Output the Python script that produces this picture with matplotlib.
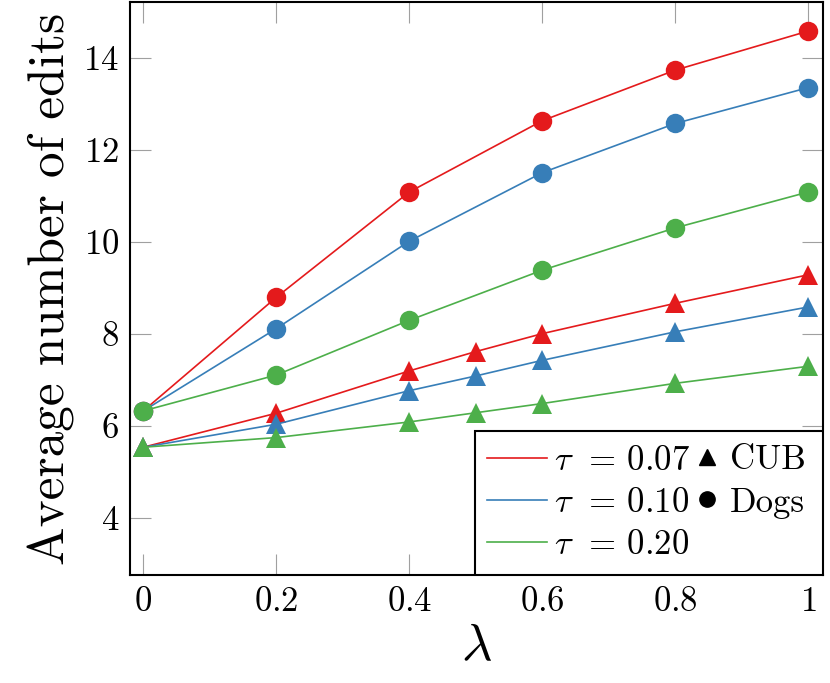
import matplotlib
matplotlib.use("Agg")
import matplotlib.pyplot as plt
from matplotlib.lines import Line2D
from matplotlib.patches import Rectangle

plt.rcParams['font.family'] = 'serif'
plt.rcParams['font.serif'] = ['cmr10', 'DejaVu Serif']
plt.rcParams['mathtext.fontset'] = 'cm'
plt.rcParams['axes.formatter.use_mathtext'] = True

# Data
lam_dogs = [0, 0.2, 0.4, 0.6, 0.8, 1.0]
lam_cub = [0, 0.2, 0.4, 0.5, 0.6, 0.8, 1.0]
taus = ["0.07", "0.10", "0.20"]
dogs = {
    "0.07": [6.33, 8.80, 11.09, 12.64, 13.74, 14.59],
    "0.10": [6.33, 8.12, 10.02, 11.51, 12.58, 13.36],
    "0.20": [6.33, 7.11, 8.30, 9.39, 10.31, 11.09],
}
cub = {
    "0.07": [5.54, 6.28, 7.20, 7.62, 8.01, 8.67, 9.29],
    "0.10": [5.54, 6.04, 6.77, 7.09, 7.43, 8.05, 8.59],
    "0.20": [5.54, 5.75, 6.09, 6.29, 6.49, 6.93, 7.30],
}
colors = {"0.07": "#e41a1c", "0.10": "#377eb8", "0.20": "#4daf4a"}
xticks = [0, 0.2, 0.4, 0.6, 0.8, 1]
xticklabels = ["$0$", "$0.2$", "$0.4$", "$0.6$", "$0.8$", "$1$"]
yticks = [4, 6, 8, 10, 12, 14]
yticklabels = ["$4$", "$6$", "$8$", "$10$", "$12$", "$14$"]

fig = plt.figure(figsize=(8.3, 6.83), dpi=100)
ax = fig.add_axes([0.157, 0.158, 0.835, 0.839])

for t in taus:
    ax.plot(lam_cub, cub[t], color=colors[t], lw=1.2, marker='^', ms=14,
            markeredgewidth=0, zorder=3)
for t in taus:
    ax.plot(lam_dogs, dogs[t], color=colors[t], lw=1.2, marker='o', ms=14,
            markeredgewidth=0, zorder=3)

ax.set_xlim(-0.0195, 1.0226)
ax.set_ylim(2.76, 15.22)
ax.set_xticks(xticks)
ax.set_xticklabels(xticklabels, fontsize=25)
ax.set_yticks(yticks)
ax.set_yticklabels(yticklabels, fontsize=25)
ax.tick_params(direction='in', length=15, width=0.8, color='#a0a0a0',
               top=True, right=True, pad=8)
for s in ax.spines.values():
    s.set_linewidth(1.5)

ax.set_ylabel("Average number of edits", fontsize=37, labelpad=6)
ax.set_xlabel(r"$\lambda$", fontsize=38, labelpad=4)

# Legend frame
ax.add_patch(Rectangle((0.497, 0.0), 0.503, 0.252, transform=ax.transAxes,
                       facecolor='white', edgecolor='black', lw=1.5, zorder=5))

line_handles = [Line2D([], [], color=colors[t], lw=1.2) for t in taus]
leg1 = ax.legend(line_handles, [r"$\tau\;\,=\,%s$" % t for t in taus],
                 loc='center left', bbox_to_anchor=(0.514, 0.1257), frameon=False,
                 fontsize=25, handlelength=1.75, handletextpad=0.2,
                 labelspacing=0.3, borderaxespad=0, borderpad=0)
leg1.set_zorder(6)
ax.add_artist(leg1)

marker_handles = [Line2D([], [], color='black', marker='^', ls='none', ms=11),
                  Line2D([], [], color='black', marker='o', ls='none', ms=11)]
leg2 = ax.legend(marker_handles, ["CUB", "Dogs"], loc='center left',
                 bbox_to_anchor=(0.819, 0.163), frameon=False, fontsize=25,
                 handlelength=0.5, handletextpad=0.42, labelspacing=0.3,
                 borderaxespad=0, borderpad=0)
leg2.set_zorder(6)

fig.savefig("out.png", dpi=100)
